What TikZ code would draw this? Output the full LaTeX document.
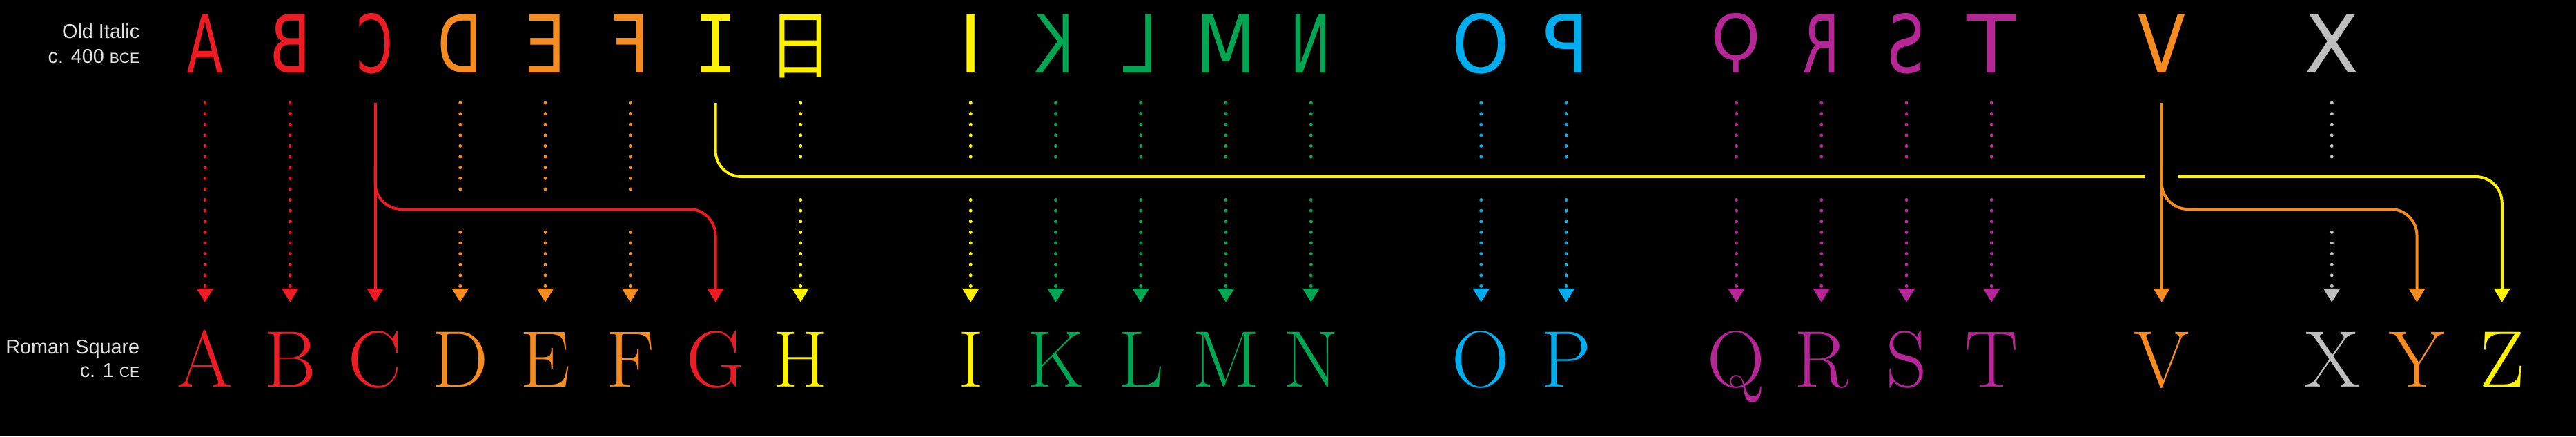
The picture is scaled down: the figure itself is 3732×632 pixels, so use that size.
\documentclass[tikz,border=0pt]{standalone}
\usepackage{fontspec}
\usepackage{graphicx}
\usetikzlibrary{arrows.meta}
\newfontfamily\oldfont{DejaVu Sans}
\newfontfamily\zetafont{DejaVu Sans Mono}
\newfontfamily\hethfont{Noto Sans CJK SC}
\newfontfamily\lblfont{Liberation Sans}

\definecolor{letred}{RGB}{237,28,36}
\definecolor{letorange}{RGB}{246,139,31}
\definecolor{letyellow}{RGB}{255,242,0}
\definecolor{letgreen}{RGB}{0,166,81}
\definecolor{letblue}{RGB}{0,174,239}
\definecolor{letmagenta}{RGB}{183,38,150}
\definecolor{letgray}{RGB}{190,190,190}
\definecolor{lblgray}{RGB}{225,225,225}

\tikzset{
  oldletter/.style={inner sep=0pt, outer ysep=0.44cm, text height=0.85cm, text depth=0pt,
    anchor=base, font=\oldfont\fontsize{33}{33}\selectfont},
  romanletter/.style={inner sep=0pt, outer ysep=0.42cm, text height=0.8cm, text depth=0pt,
    anchor=base, font=\fontsize{33}{33}\selectfont},
  lbl/.style={text=lblgray, inner sep=0pt, anchor=base east,
    font=\lblfont\fontsize{8.2}{10}\selectfont},
  dotarrow/.style={line width=0.05cm, line cap=round, dash pattern=on 0pt off 0.156cm,
    -{Triangle[width=0.23cm,length=0.2cm]}},
  linearrow/.style={line width=0.04cm, rounded corners=0.38cm,
    -{Triangle[width=0.23cm,length=0.2cm]}},
  gapped/.style={preaction={draw=black, -, line width=0.48cm}}
}

\begin{document}
\begin{tikzpicture}[x=0.01cm, y=-0.01cm]
  \useasboundingbox (0,0) rectangle (3732,632);
  \fill[black] (0,0) rectangle (3732,632);

  % levels of the horizontal runs
  \coordinate (brtop) at (0,240);
  \coordinate (highbar) at (0,256);
  \coordinate (lowbar) at (0,303);

  % labels
  \node[lbl] (oldname) at (203,55) {Old Italic};
  \node[lbl] (olddate) at (203,91) {c. 400 {\fontsize{6}{7}\selectfont BCE}};
  \node[lbl] (romname) at (203,512) {Roman Square};
  \node[lbl] (romdate) at (203,546) {c. 1 {\fontsize{6}{7}\selectfont CE}};

  % old italic row
  \foreach \n/\s/\col/\g/\f in {
    A/0/letred/A/-0.66,
    B/1/letred/B/-0.75,
    C/2/letred/C/-0.65,
    D/3/letorange/D/-0.72,
    E/4/letorange/E/-0.82,
    F/5/letorange/F/-0.85,
    Z/6/letyellow/{\zetafont I}/0.9,
    H/7/letyellow/{\hethfont\fontsize{31}{31}\selectfont 日}/0.85,
    I/9/letyellow/I/1,
    K/10/letgreen/K/-0.72,
    L/11/letgreen/L/-0.78,
    M/12/letgreen/M/-0.88,
    N/13/letgreen/N/-0.68,
    O/15/letblue/O/0.92,
    P/16/letblue/P/-0.95,
    Q/18/letmagenta/{\raisebox{0.16em}{\scalebox{0.78}{Ϙ}}}/1,
    R/19/letmagenta/R/-0.67,
    S/20/letmagenta/S/-0.73,
    T/21/letmagenta/T/1,
    V/23/letorange/V/0.87,
    X/25/letgray/X/1%
  } { \node[oldletter, text=\col] (o\n) at ({297+123.25*\s},105) {\scalebox{\f}[1]{\g}}; }

  % roman square row
  \foreach \n/\s/\col in {
    A/0/letred, B/1/letred, C/2/letred,
    D/3/letorange, E/4/letorange, F/5/letorange,
    G/6/letred, H/7/letyellow, I/9/letyellow,
    K/10/letgreen, L/11/letgreen, M/12/letgreen, N/13/letgreen,
    O/15/letblue, P/16/letblue,
    Q/18/letmagenta, R/19/letmagenta, S/20/letmagenta, T/21/letmagenta,
    V/23/letorange, X/25/letgray, Y/26/letorange, Z/27/letyellow%
  } { \node[romanletter, text=\col] (r\n) at ({297+123.25*\s},560) {\n}; }

  % letters kept as they were
  \foreach \a/\col in {
    A/letred, B/letred,
    D/letorange, E/letorange, F/letorange,
    H/letyellow, I/letyellow,
    K/letgreen, L/letgreen, M/letgreen, N/letgreen,
    O/letblue, P/letblue,
    Q/letmagenta, R/letmagenta, S/letmagenta, T/letmagenta,
    X/letgray%
  } { \draw[dotarrow, \col] (o\a) -- (r\a); }

  % letters that moved or split
  \draw[linearrow, letyellow, gapped] (oZ) -- (oZ |- highbar) -- (rZ |- highbar) -- (rZ);
  \draw[linearrow, letred, gapped] (oC |- brtop) -- (oC |- lowbar) -- (rG |- lowbar) -- (rG);
  \draw[linearrow, letorange, gapped] (oV |- brtop) -- (oV |- lowbar) -- (rY |- lowbar) -- (rY);
  \draw[linearrow, letred] (oC) -- (rC);
  \draw[linearrow, letorange] (oV) -- (rV);
\end{tikzpicture}
\end{document}
